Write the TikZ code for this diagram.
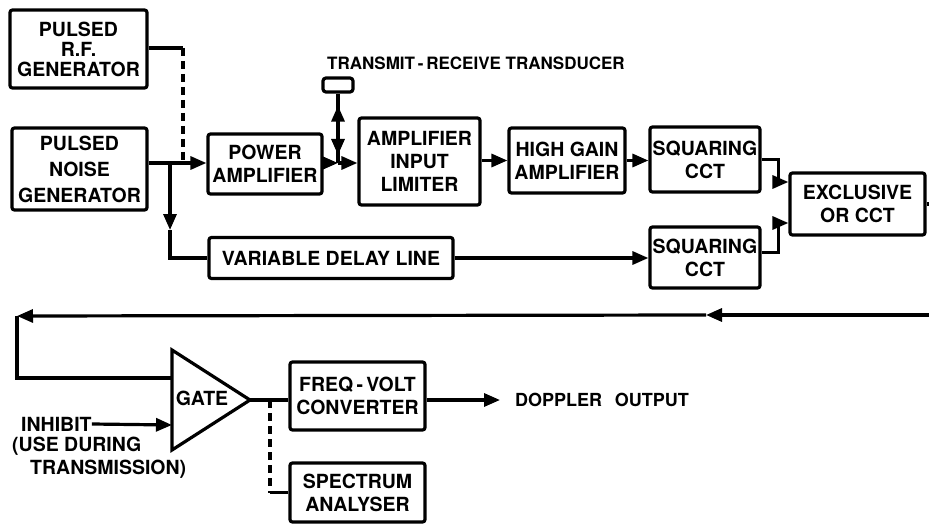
\documentclass[tikz,border=0pt]{standalone}
\usepackage{fontspec}
\setmainfont{TeX Gyre Heros}
\usetikzlibrary{positioning, arrows.meta, calc}

\tikzset{
  blk/.style={draw, line width=3.2pt, rounded corners=2.5pt, align=center,
              inner sep=1pt, font=\fontsize{19.5}{23}\selectfont\bfseries},
  lbl/.style={inner sep=0pt, font=\fontsize{19.5}{23}\selectfont\bfseries},
  wire/.style={line width=3.2pt},
  sig/.style={wire, -{Triangle[length=16pt,width=13pt]}},
  dashwire/.style={wire, dash pattern=on 8pt off 5pt},
}

\begin{document}
\begin{tikzpicture}[x=1pt, y=-1pt]
  \useasboundingbox (0,0) rectangle (929,524);

  % transmit side
  \node[blk, minimum width=137pt, minimum height=78pt] (rfgen) at (78.5,49)
    {PULSED\\[-3pt]R.F.\\[-3pt]GENERATOR};
  \node[blk, minimum width=135pt, minimum height=82pt] (noisegen) at (79.5,169)
    {PULSED\\[3pt]NOISE\\[3pt]GENERATOR};
  \node[blk, minimum width=114pt, minimum height=60pt] (poweramp) at (265,164)
    {POWER\\AMPLIFIER};
  \node[draw, line width=3.2pt, rounded corners=3pt, minimum width=30pt,
        minimum height=14pt, inner sep=0pt] (xducer) at (338,85) {};
  \node[lbl, anchor=west, font=\fontsize{17}{20}\selectfont\bfseries] (title)
    at (327,63) {TRANSMIT\,-\,RECEIVE TRANSDUCER};

  % receive side
  \node[blk, minimum width=121pt, minimum height=87pt] (limiter) at (419.5,161.5)
    {AMPLIFIER\\INPUT\\LIMITER};
  \node[blk, minimum width=116pt, minimum height=65pt] (hgamp) at (567,160.5)
    {HIGH GAIN\\AMPLIFIER};
  \node[blk, minimum width=110pt, minimum height=65pt] (sqtop) at (705,159.5)
    {SQUARING\\CCT};
  \node[blk, minimum width=244pt, minimum height=41pt] (delay) at (331,258)
    {VARIABLE DELAY LINE};
  \node[blk, minimum width=110pt, minimum height=61pt] (sqbot) at (705,257.5)
    {SQUARING\\CCT};
  \node[blk, minimum width=135pt, minimum height=62pt] (exor) at (857.5,204)
    {EXCLUSIVE\\OR CCT};

  % output side
  \draw[wire, line join=miter] (172,350) -- (250,400) coordinate (gate-tip)
    -- (172,450) -- cycle;
  \coordinate (gate-in1) at (172,378);
  \coordinate (gate-in2) at (172,425);
  \node[lbl] (gate) at (202,398) {GATE};
  \node[blk, minimum width=135pt, minimum height=68pt] (fvc) at (357.5,396)
    {FREQ\,-\,VOLT\\CONVERTER};
  \node[blk, minimum width=135pt, minimum height=59pt] (spectrum) at (357.5,492.5)
    {SPECTRUM\\ANALYSER};
  \node[lbl, anchor=west, font=\fontsize{18}{21}\selectfont\bfseries] (doppler)
    at (515,400) {DOPPLER\hspace{0.7em}OUTPUT};
  \node[lbl, anchor=west] (inhibit) at (21,424) {INHIBIT};
  \node[lbl, anchor=north west, align=left] (inhnote) at (12,437)
    {(USE DURING\\\hspace*{18pt}TRANSMISSION)};

  % connections
  \coordinate (split) at (170,163);
  \coordinate (rfdrop) at (183,48);
  \coordinate (tjunc) at (338,163);
  \draw[wire] (rfgen.east |- rfdrop) -- (rfdrop);
  \draw[dashwire] (rfdrop) -- (rfdrop |- poweramp.west);
  \draw[wire] (noisegen.east |- split) -- (split);
  \draw[sig] (split) -- (split -| poweramp.west);
  \draw[sig] (split) -- ++(0,67) coordinate (dlarr);
  \draw[wire] (dlarr) |- (delay.west);
  \draw[sig] (poweramp.east |- tjunc) -- (tjunc);
  \draw[sig] (tjunc) -- (tjunc -| limiter.west);
  \draw[wire] (xducer.south) -- (tjunc);
  \draw[wire, {Triangle[length=16pt,width=13pt]}-{Triangle[length=16pt,width=13pt]},
        shorten <=12pt, shorten >=8pt] (xducer.south) -- (tjunc);
  \draw[sig] (limiter.east |- hgamp.west) -- (hgamp.west);
  \draw[sig] (hgamp.east) -- (hgamp.east -| sqtop.west);
  \draw[sig] (delay.east) -- (delay.east -| sqbot.west);
  \draw[sig] (sqtop.east) -- ++(17,0) |- ($(exor.west)+(0,-22)$);
  \draw[sig] ($(sqbot.east)+(0,-5)$) -- ++(17,0) |- ($(exor.west)+(0,19)$);
  \coordinate (fb-right) at (929,315);
  \coordinate (fb-mid) at (706,315);
  \coordinate (fb-left) at (17,316);
  \draw[wire] (exor.east) -- (exor.east -| fb-right);
  \draw[sig] (fb-right) -- (fb-mid);
  \draw[sig] (fb-mid) -- (fb-left);
  \draw[wire] (fb-left) |- (gate-in1);
  \draw[sig] (inhibit.east) -- (gate-in2);
  \coordinate (satap) at (270,400);
  \draw[wire] (gate-tip) -- (gate-tip -| fvc.west);
  \draw[dashwire] (satap) -- (satap |- spectrum.west);
  \draw[wire] (satap |- spectrum.west) -- (spectrum.west);
  \draw[sig, shorten >=15pt] (fvc.east |- doppler.west) -- (doppler.west);
\end{tikzpicture}
\end{document}
